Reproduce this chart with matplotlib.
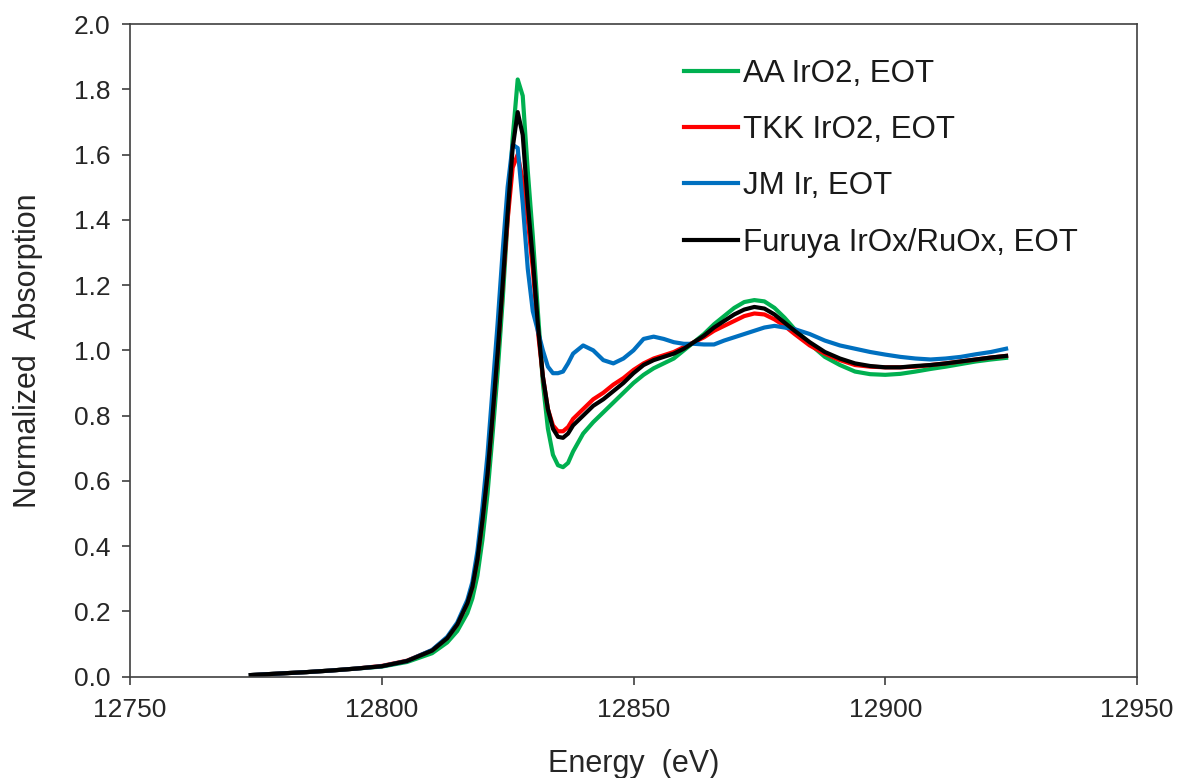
import matplotlib
matplotlib.use("Agg")
import matplotlib.pyplot as plt

plt.rcParams['font.family'] = ['Liberation Sans', 'DejaVu Sans']

energy = [12774, 12780, 12785, 12790, 12795, 12800, 12805, 12810, 12813, 12815,
          12817, 12818, 12819, 12820, 12821, 12822, 12823, 12824, 12825, 12826,
          12827, 12828, 12829, 12830, 12831, 12832, 12833, 12834, 12835, 12836,
          12837, 12838, 12840, 12842, 12844, 12846, 12848, 12850, 12852, 12854,
          12856, 12858, 12860, 12862, 12864, 12866, 12868, 12870, 12872, 12874,
          12876, 12878, 12880, 12882, 12885, 12888, 12891, 12894, 12897, 12900,
          12903, 12906, 12909, 12912, 12915, 12918, 12921, 12924]

aa_iro2 = [0.005, 0.010, 0.014, 0.019, 0.025, 0.031, 0.045, 0.072, 0.105, 0.140,
           0.195, 0.240, 0.310, 0.420, 0.560, 0.740, 0.930, 1.150, 1.400, 1.650,
           1.830, 1.780, 1.550, 1.350, 1.120, 0.900, 0.760, 0.680, 0.648, 0.642,
           0.655, 0.690, 0.745, 0.780, 0.810, 0.840, 0.870, 0.900, 0.925, 0.945,
           0.960, 0.975, 1.000, 1.025, 1.050, 1.080, 1.105, 1.130, 1.148, 1.154,
           1.150, 1.130, 1.100, 1.065, 1.020, 0.980, 0.955, 0.935, 0.927, 0.925,
           0.928, 0.935, 0.943, 0.950, 0.958, 0.966, 0.972, 0.977]

tkk_iro2 = [0.005, 0.010, 0.014, 0.019, 0.025, 0.033, 0.049, 0.081, 0.119, 0.160,
            0.225, 0.275, 0.360, 0.480, 0.620, 0.800, 0.990, 1.200, 1.400, 1.560,
            1.600, 1.520, 1.400, 1.250, 1.060, 0.920, 0.820, 0.770, 0.752, 0.752,
            0.765, 0.790, 0.820, 0.850, 0.870, 0.895, 0.915, 0.940, 0.960, 0.975,
            0.985, 0.995, 1.010, 1.025, 1.040, 1.060, 1.075, 1.090, 1.105, 1.113,
            1.110, 1.095, 1.075, 1.050, 1.015, 0.990, 0.970, 0.955, 0.950, 0.948,
            0.948, 0.950, 0.955, 0.960, 0.966, 0.972, 0.978, 0.983]

jm_ir = [0.005, 0.010, 0.014, 0.019, 0.025, 0.032, 0.048, 0.082, 0.122, 0.166,
         0.235, 0.290, 0.385, 0.520, 0.680, 0.880, 1.080, 1.300, 1.500, 1.630,
         1.620, 1.450, 1.250, 1.120, 1.060, 1.000, 0.950, 0.930, 0.930, 0.935,
         0.960, 0.990, 1.015, 1.000, 0.970, 0.960, 0.975, 1.000, 1.035, 1.042,
         1.035, 1.025, 1.020, 1.020, 1.018, 1.018, 1.030, 1.040, 1.050, 1.060,
         1.070, 1.075, 1.070, 1.065, 1.050, 1.030, 1.015, 1.005, 0.995, 0.987,
         0.980, 0.975, 0.972, 0.975, 0.980, 0.988, 0.995, 1.005]

furuya = [0.005, 0.010, 0.014, 0.019, 0.025, 0.032, 0.048, 0.080, 0.118, 0.160,
          0.225, 0.275, 0.360, 0.480, 0.620, 0.800, 0.990, 1.200, 1.420, 1.620,
          1.730, 1.660, 1.450, 1.280, 1.080, 0.920, 0.820, 0.760, 0.735, 0.732,
          0.745, 0.770, 0.800, 0.830, 0.850, 0.875, 0.900, 0.930, 0.955, 0.970,
          0.980, 0.990, 1.005, 1.025, 1.045, 1.070, 1.090, 1.110, 1.125, 1.133,
          1.128, 1.110, 1.085, 1.060, 1.025, 0.995, 0.975, 0.960, 0.952, 0.948,
          0.948, 0.952, 0.955, 0.960, 0.966, 0.972, 0.978, 0.983]

labels = ["AA IrO2, EOT", "TKK IrO2, EOT", "JM Ir, EOT", "Furuya IrOx/RuOx, EOT"]
colors = ["#00B050", "#FF0000", "#0070C0", "#000000"]
x_ticks = [12750, 12800, 12850, 12900, 12950]
y_ticks = [0.0, 0.2, 0.4, 0.6, 0.8, 1.0, 1.2, 1.4, 1.6, 1.8, 2.0]

fig = plt.figure(figsize=(11.79, 7.78), dpi=100)
ax = fig.add_axes([130/1179, 1 - 676.7/778, (1137-130)/1179, (676.7-24)/778])

for y, lab, c in zip([aa_iro2, tkk_iro2, jm_ir, furuya], labels, colors):
    ax.plot(energy, y, color=c, lw=3.0, label=lab, solid_joinstyle='round')

ax.set_xlim(12750, 12950)
ax.set_ylim(0, 2.0)
ax.set_xticks(x_ticks)
ax.set_yticks(y_ticks)
ax.set_xticklabels([str(t) for t in x_ticks])
ax.set_yticklabels([f"{t:.1f}" for t in y_ticks])

for s in ax.spines.values():
    s.set_color('#404040')
    s.set_linewidth(1.2)
ax.tick_params(direction='out', length=6, width=1.2, color='#404040',
               labelsize=19, labelcolor='#262626')
ax.tick_params(axis='y', pad=8)
ax.tick_params(axis='x', pad=9)

ax.set_xlabel("Energy  (eV)", fontsize=22, color='#262626', labelpad=20)
ax.set_ylabel("Normalized  Absorption", fontsize=22, color='#262626', labelpad=22)

leg = ax.legend(loc='upper left', bbox_to_anchor=(0.525, 0.985), frameon=False,
                fontsize=22.5, handlelength=1.75, handletextpad=0.15,
                labelspacing=0.84, borderpad=0.3)
for t in leg.get_texts():
    t.set_color('#1a1a1a')

fig.savefig("out.png", dpi=100)
